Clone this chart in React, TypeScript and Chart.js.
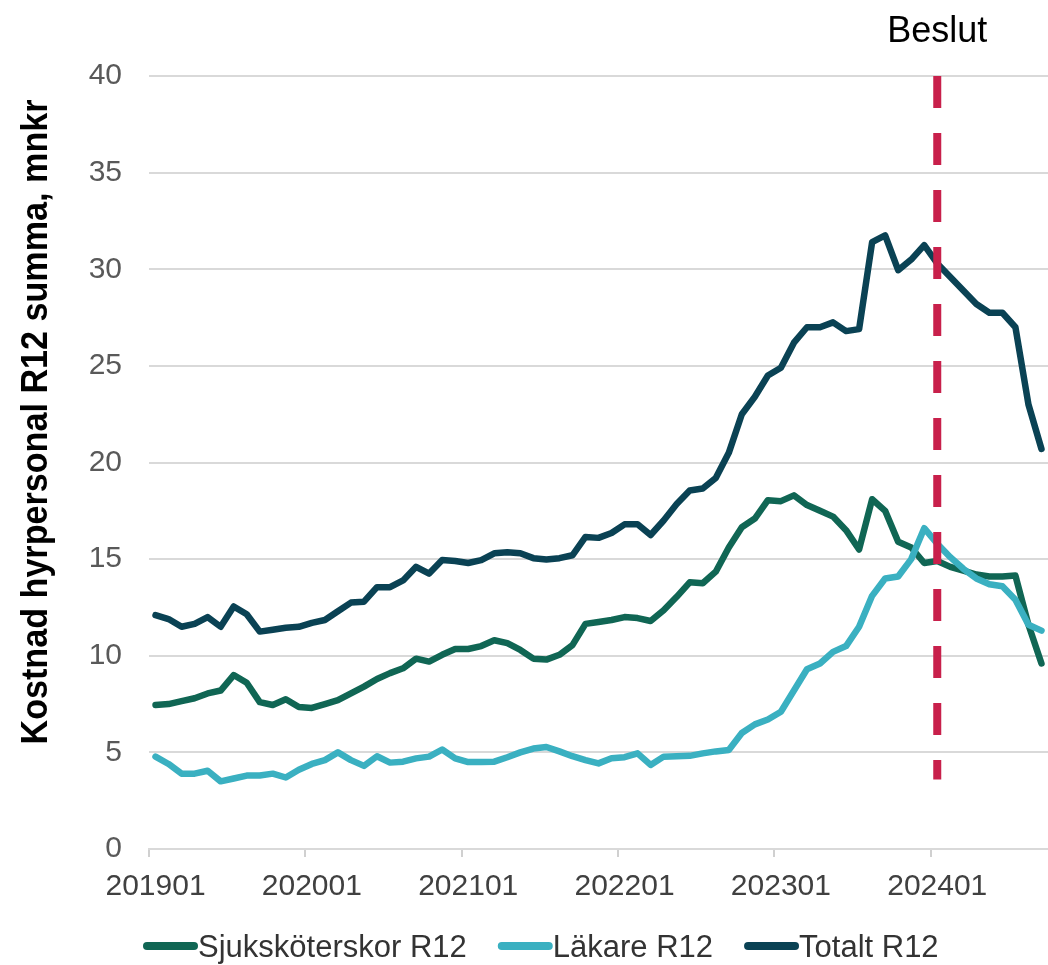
import React, { useEffect, useRef } from 'react';
import { Chart, registerables } from 'chart.js';

Chart.register(...registerables);

const months = [
  '201901', '201902', '201903', '201904', '201905', '201906', '201907', '201908', '201909', '201910', '201911', '201912',
  '202001', '202002', '202003', '202004', '202005', '202006', '202007', '202008', '202009', '202010', '202011', '202012',
  '202101', '202102', '202103', '202104', '202105', '202106', '202107', '202108', '202109', '202110', '202111', '202112',
  '202201', '202202', '202203', '202204', '202205', '202206', '202207', '202208', '202209', '202210', '202211', '202212',
  '202301', '202302', '202303', '202304', '202305', '202306', '202307', '202308', '202309', '202310', '202311', '202312',
  '202401', '202402', '202403', '202404', '202405', '202406', '202407', '202408', '202409',
];

const tickLabels = ['201901', '202001', '202101', '202201', '202301', '202401'];

const sjukskoterskor = [
  7.45, 7.5, 7.65, 7.8, 8.05, 8.2, 9.0, 8.6, 7.6, 7.45, 7.75, 7.35,
  7.3, 7.5, 7.7, 8.05, 8.4, 8.8, 9.1, 9.35, 9.85, 9.7, 10.05, 10.35,
  10.35, 10.5, 10.8, 10.65, 10.3, 9.85, 9.8, 10.05, 10.55, 11.65, 11.75, 11.85,
  12.0, 11.95, 11.8, 12.35, 13.05, 13.8, 13.75, 14.35, 15.6, 16.65, 17.1, 18.05,
  18.0, 18.3, 17.8, 17.5, 17.2, 16.5, 15.5, 18.1, 17.5, 15.9, 15.6, 14.8,
  14.9, 14.6, 14.4, 14.2, 14.1, 14.1, 14.15, 11.6, 9.6,
];

const lakare = [
  4.78, 4.4, 3.9, 3.9, 4.05, 3.5, 3.65, 3.8, 3.8, 3.9, 3.7, 4.1,
  4.4, 4.6, 5.0, 4.6, 4.3, 4.8, 4.47, 4.52, 4.69, 4.78, 5.15, 4.69,
  4.5, 4.5, 4.52, 4.75, 5.0, 5.2, 5.28, 5.05, 4.8, 4.6, 4.43, 4.7,
  4.75, 4.95, 4.35, 4.78, 4.8, 4.82, 4.95, 5.05, 5.12, 6.0, 6.45, 6.7,
  7.1, 8.2, 9.3, 9.6, 10.2, 10.5, 11.5, 13.1, 14.0, 14.1, 15.0, 16.6,
  15.8, 15.1, 14.5, 14.0, 13.7, 13.6, 12.9, 11.6, 11.3,
];

const totalt = [
  12.1, 11.9, 11.5, 11.65, 12.0, 11.5, 12.55, 12.15, 11.25, 11.35, 11.45, 11.5,
  11.7, 11.85, 12.3, 12.75, 12.8, 13.55, 13.55, 13.9, 14.6, 14.25, 14.95, 14.9,
  14.8, 14.95, 15.3, 15.35, 15.3, 15.05, 14.98, 15.05, 15.2, 16.15, 16.1, 16.35,
  16.8, 16.8, 16.25, 17.0, 17.85, 18.55, 18.65, 19.2, 20.5, 22.5, 23.4, 24.5,
  24.9, 26.2, 27.0, 27.0, 27.25, 26.8, 26.9, 31.4, 31.75, 29.95, 30.5, 31.25,
  30.3, 29.6, 28.9, 28.2, 27.75, 27.75, 27.0, 23.0, 20.7,
];

const seriesNames = ['Sjuksköterskor R12', 'Läkare R12', 'Totalt R12'];
const seriesColors = ['#106654', '#3ab0c1', '#0a4254'];

const yMin = 0;
const yMax = 40;
const yStep = 5;
const yTitle = 'Kostnad hyrpersonal R12 summa, mnkr';

const decisionMonth = '202401';
const decisionLabel = 'Beslut';
const decisionTop = 40;
const decisionBottom = 3.6;

const FONT = '"Liberation Sans", Arial, sans-serif';

const overlayPlugin = {
  id: 'overlay',
  afterDatasetsDraw(chart: any) {
    const { ctx, scales } = chart;
    const x = scales.x;
    const y = scales.y;
    const px = x.getPixelForValue(months.indexOf(decisionMonth));
    ctx.save();
    ctx.strokeStyle = '#c8204b';
    ctx.lineWidth = 8;
    ctx.setLineDash([32, 25]);
    ctx.beginPath();
    ctx.moveTo(px, y.getPixelForValue(decisionTop));
    ctx.lineTo(px, y.getPixelForValue(decisionBottom));
    ctx.stroke();
    ctx.restore();

    ctx.save();
    ctx.fillStyle = '#000000';
    ctx.font = `36px ${FONT}`;
    ctx.textAlign = 'center';
    ctx.textBaseline = 'alphabetic';
    ctx.fillText(decisionLabel, px, 42);
    ctx.restore();
  },
  afterDraw(chart: any) {
    const { ctx } = chart;
    // y-axis title
    ctx.save();
    ctx.translate(37, 422);
    ctx.rotate(-Math.PI / 2);
    ctx.fillStyle = '#000000';
    ctx.font = `bold 36px ${FONT}`;
    const w = ctx.measureText(yTitle).width;
    ctx.scale(645 / w, 1);
    ctx.textAlign = 'center';
    ctx.textBaseline = 'middle';
    ctx.fillText(yTitle, 0, 0);
    ctx.restore();

    // legend
    ctx.save();
    ctx.font = `31px ${FONT}`;
    ctx.textBaseline = 'alphabetic';
    ctx.textAlign = 'left';
    let lx = 143;
    const ly = 946;
    chart.data.datasets.forEach((ds: any) => {
      ctx.strokeStyle = ds.borderColor;
      ctx.lineWidth = 8;
      ctx.lineCap = 'round';
      ctx.beginPath();
      ctx.moveTo(lx + 4, ly);
      ctx.lineTo(lx + 51, ly);
      ctx.stroke();
      ctx.fillStyle = '#333333';
      ctx.fillText(ds.label, lx + 55, 957);
      lx += 55 + ctx.measureText(ds.label).width + 31;
    });
    ctx.restore();
  },
};

export default function App() {
  const canvasRef = useRef<HTMLCanvasElement | null>(null);

  useEffect(() => {
    const canvas = canvasRef.current;
    if (!canvas) return;
    const datasets = [sjukskoterskor, lakare, totalt].map((data, i) => ({
      label: seriesNames[i],
      data,
      borderColor: seriesColors[i],
      backgroundColor: seriesColors[i],
      borderWidth: 6.5,
      pointRadius: 0,
      pointHoverRadius: 0,
      tension: 0,
      fill: false,
      borderJoinStyle: 'round' as const,
      borderCapStyle: 'round' as const,
      order: 2 - i,
    }));

    const chart = new Chart(canvas, {
      type: 'line',
      data: { labels: months, datasets },
      options: {
        responsive: false,
        animation: false,
        devicePixelRatio: 1,
        layout: { padding: { top: 76, right: 0, bottom: 0, left: 0 } },
        plugins: {
          legend: { display: false },
          tooltip: { enabled: false },
          title: { display: false },
        },
        scales: {
          x: {
            type: 'category',
            offset: true,
            afterFit: (scale: any) => {
              scale.height = 116;
              scale.paddingRight = 0;
              scale.paddingLeft = 0;
            },
            grid: {
              offset: true,
              drawOnChartArea: false,
              drawTicks: true,
              tickLength: 8,
              lineWidth: 2,
              color: (ctx: any) => (ctx.index % 12 === 0 ? '#d0d0d0' : 'rgba(0,0,0,0)'),
            },
            border: { display: true, color: '#d9d9d9', width: 2 },
            ticks: {
              autoSkip: false,
              maxRotation: 0,
              minRotation: 0,
              padding: 12,
              color: '#404040',
              font: { family: FONT, size: 30 },
              callback: (_v: any, idx: number) => (tickLabels.includes(months[idx]) ? months[idx] : ''),
            },
          },
          y: {
            min: yMin,
            max: yMax,
            afterFit: (scale: any) => {
              scale.width = 149;
            },
            grid: { color: '#d9d9d9', lineWidth: 2, drawTicks: false },
            border: { display: false },
            ticks: {
              stepSize: yStep,
              padding: 27,
              color: '#595959',
              font: { family: FONT, size: 30 },
            },
          },
        },
      },
      plugins: [overlayPlugin],
    });
    return () => chart.destroy();
  }, []);

  return (
    <div style={{ position: 'absolute', left: 0, top: 0, width: 1048, height: 965, background: '#ffffff' }}>
      <canvas ref={canvasRef} width={1048} height={965} style={{ display: 'block' }} />
    </div>
  );
}
